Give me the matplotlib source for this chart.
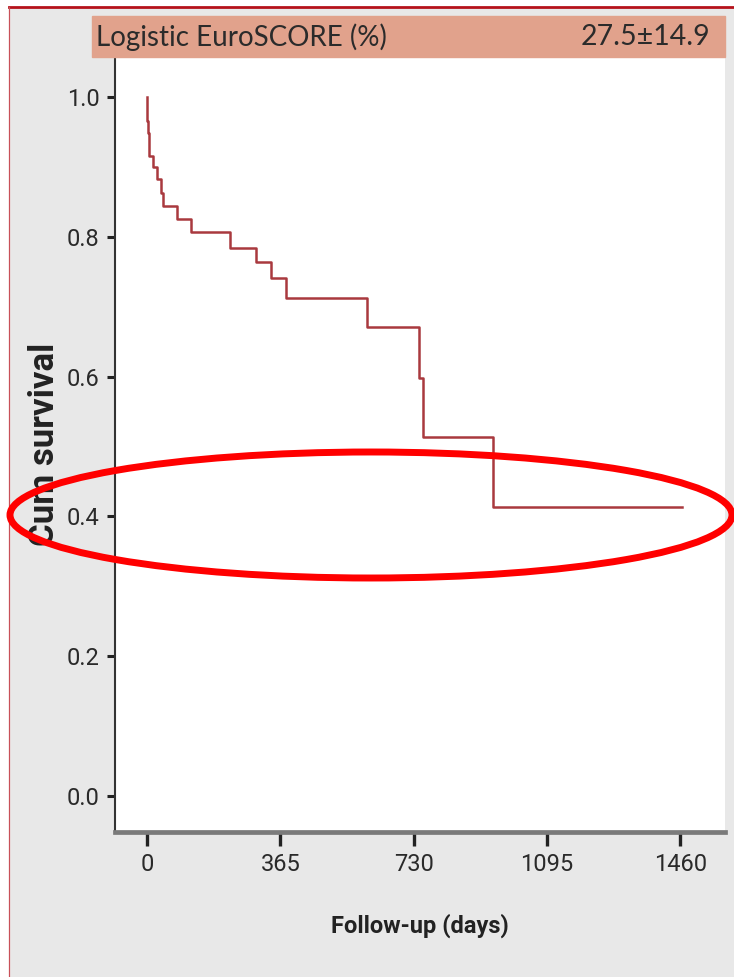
import matplotlib
matplotlib.use("Agg")
import matplotlib.pyplot as plt
from matplotlib.patches import Ellipse, Rectangle
from matplotlib.lines import Line2D

# Kaplan-Meier steps
times = [0, 1, 3, 6, 17, 27, 38, 45, 81, 120, 227, 298, 339, 380, 601, 745, 756, 948]
survival = [1.0, 0.965, 0.948, 0.915, 0.900, 0.883, 0.862, 0.844, 0.826, 0.807,
            0.784, 0.764, 0.741, 0.713, 0.671, 0.598, 0.514, 0.414]
last_followup = 1464

x_ticks = [0, 365, 730, 1095, 1460]
y_ticks = [0.0, 0.2, 0.4, 0.6, 0.8, 1.0]
y_tick_labels = ["0.0", "0.2", "0.4", "0.6", "0.8", "1.0"]

header_label = "Logistic EuroSCORE (%)"
header_value = "27.5\u00b114.9"

plt.rcParams['font.family'] = ['Roboto', 'DejaVu Sans']

W, H = 734, 977
fig = plt.figure(figsize=(W / 100, H / 100), dpi=100)
fig.patch.set_facecolor('#e8e8e8')

# white margin + red frame lines
fig.add_artist(Rectangle((0, 0), 9 / W, 1, transform=fig.transFigure, color='white', zorder=0))
fig.add_artist(Rectangle((0, 1 - 6 / H), 1, 6 / H, transform=fig.transFigure, color='white', zorder=0))
fig.add_artist(Line2D([9 / W, 1], [1 - 7 / H, 1 - 7 / H], transform=fig.transFigure,
                      color='#b5121b', lw=2.0))
fig.add_artist(Line2D([9 / W, 9 / W], [0, 1 - 7 / H], transform=fig.transFigure,
                      color='#c85058', lw=0.9))

# header bar
fig.add_artist(Rectangle((92 / W, 1 - 57 / H), (725 - 92) / W, 41 / H, transform=fig.transFigure,
                         color='#e1a28c', zorder=1))
fig.text(96 / W, 1 - 37 / H, header_label, fontsize=20, color='#2b2b2b', va='center', ha='left',
         family=['Lato', 'DejaVu Sans'])
fig.text(710 / W, 1 - 37 / H, header_value, fontsize=20.5, color='#2b2b2b', va='center', ha='right',
         family=['Lato', 'DejaVu Sans'])

ax = fig.add_axes([115 / W, (H - 832) / H, (725 - 115) / W, (832 - 57) / H])
ax.set_facecolor('white')

ax.step(times + [last_followup], survival + [survival[-1]], where='post',
        color='#a9393e', lw=1.8)

ax.set_xlim(-87.6, 1582)
ax.set_ylim(-0.0515, 1.0572)
ax.set_xticks(x_ticks)
ax.set_yticks(y_ticks)
ax.set_yticklabels(y_tick_labels)

for s in ['top', 'right']:
    ax.spines[s].set_visible(False)
ax.spines['left'].set_linewidth(1.5)
ax.spines['left'].set_color('#333333')
ax.spines['bottom'].set_linewidth(3.4)
ax.spines['bottom'].set_color('#7a7a7a')

ax.tick_params(axis='x', length=10, width=2.4, color='#222222', labelsize=17,
               labelcolor='#2a2a2a', pad=5)
ax.tick_params(axis='y', length=6, width=2.2, color='#222222', labelsize=17,
               labelcolor='#2a2a2a', pad=5)

ax.set_xlabel("Follow-up (days)", fontsize=17, fontweight='bold', color='#222222', labelpad=27)
ax.set_ylabel("Cum survival", fontsize=25, fontweight='bold', color='#222222', labelpad=4)

# red highlight ellipse around the 0.4 level
fig.add_artist(Ellipse((371 / W, 1 - 515 / H), 722 / W, 126 / H, transform=fig.transFigure,
                       fill=False, edgecolor='#ff0000', lw=5, zorder=10))

fig.savefig("out.png", dpi=100, facecolor=fig.get_facecolor())
